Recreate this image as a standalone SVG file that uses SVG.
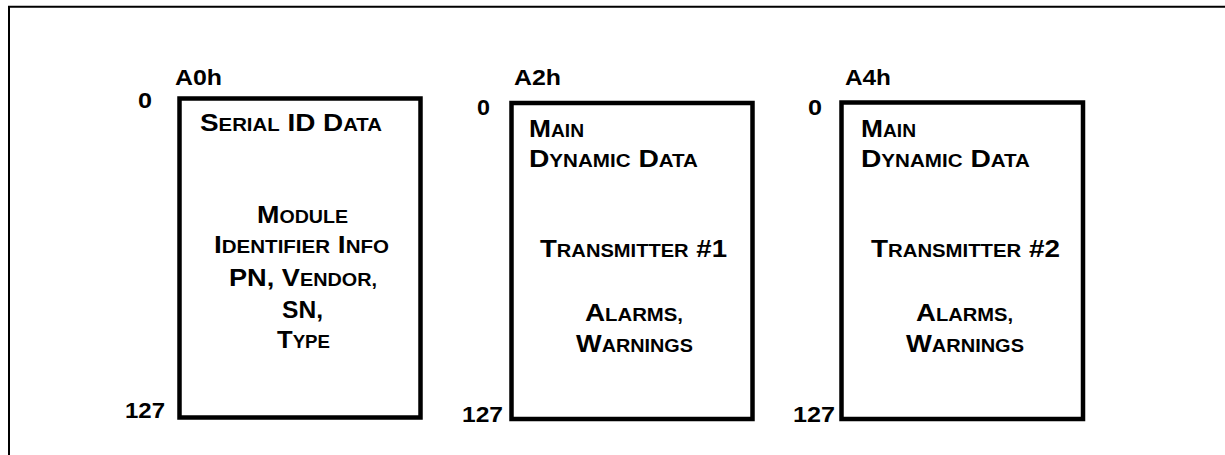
<svg xmlns="http://www.w3.org/2000/svg" width="1225" height="455" viewBox="0 0 1225 455">
<style>
  text { font-family: "Liberation Sans", Arial, sans-serif; font-weight: bold; fill: #000; }
  .lbl { font-size: 21.5px; }
  .bt { font-size: 24px; }
  .sc { font-size: 17.5px; }
  .box { fill: #fff; stroke: #000; stroke-width: 4.5; }
  .frame { fill: none; stroke: #000; stroke-width: 2; }
</style>
<rect width="1225" height="455" fill="#fff"/>
<g id="frame">
  <polyline class="frame" points="9,455 9,6.7 1225,6.7"/>
</g>
<g id="node-a0h">
  <rect class="box" x="179.5" y="98.5" width="241" height="319"/>
  <text class="lbl" x="175" y="85" textLength="47" lengthAdjust="spacingAndGlyphs">A0h</text>
  <text class="lbl" x="138" y="108" textLength="14" lengthAdjust="spacingAndGlyphs">0</text>
  <text class="lbl" x="125" y="418" textLength="40" lengthAdjust="spacingAndGlyphs">127</text>
  <text class="bt" x="200" y="131" textLength="182" lengthAdjust="spacingAndGlyphs">S<tspan class="sc">ERIAL</tspan> ID D<tspan class="sc">ATA</tspan></text>
  <text class="bt" x="257" y="223" textLength="91" lengthAdjust="spacingAndGlyphs">M<tspan class="sc">ODULE</tspan></text>
  <text class="bt" x="214" y="253" textLength="175" lengthAdjust="spacingAndGlyphs">I<tspan class="sc">DENTIFIER</tspan> I<tspan class="sc">NFO</tspan></text>
  <text class="bt" x="229" y="286" textLength="148" lengthAdjust="spacingAndGlyphs">PN, V<tspan class="sc">ENDOR,</tspan></text>
  <text class="bt" x="282" y="318" textLength="41" lengthAdjust="spacingAndGlyphs">SN,</text>
  <text class="bt" x="277" y="348" textLength="53" lengthAdjust="spacingAndGlyphs">T<tspan class="sc">YPE</tspan></text>
</g>
<g id="node-a2h">
  <rect class="box" x="511.5" y="103" width="241" height="316"/>
  <text class="lbl" x="514" y="85" textLength="47" lengthAdjust="spacingAndGlyphs">A2h</text>
  <text class="lbl" x="477" y="115" textLength="13" lengthAdjust="spacingAndGlyphs">0</text>
  <text class="lbl" x="462" y="422" textLength="41" lengthAdjust="spacingAndGlyphs">127</text>
  <text class="bt" x="529" y="137" textLength="55" lengthAdjust="spacingAndGlyphs">M<tspan class="sc">AIN</tspan></text>
  <text class="bt" x="529" y="167" textLength="169" lengthAdjust="spacingAndGlyphs">D<tspan class="sc">YNAMIC</tspan> D<tspan class="sc">ATA</tspan></text>
  <text class="bt" x="540" y="257" textLength="187" lengthAdjust="spacingAndGlyphs">T<tspan class="sc">RANSMITTER</tspan> #1</text>
  <text class="bt" x="585" y="321" textLength="98" lengthAdjust="spacingAndGlyphs">A<tspan class="sc">LARMS,</tspan></text>
  <text class="bt" x="576" y="352" textLength="117" lengthAdjust="spacingAndGlyphs">W<tspan class="sc">ARNINGS</tspan></text>
</g>
<g id="node-a4h">
  <rect class="box" x="841.5" y="102.5" width="241.5" height="316.5"/>
  <text class="lbl" x="845" y="85" textLength="46" lengthAdjust="spacingAndGlyphs">A4h</text>
  <text class="lbl" x="808" y="115" textLength="14" lengthAdjust="spacingAndGlyphs">0</text>
  <text class="lbl" x="793" y="422" textLength="42" lengthAdjust="spacingAndGlyphs">127</text>
  <text class="bt" x="861" y="137" textLength="55" lengthAdjust="spacingAndGlyphs">M<tspan class="sc">AIN</tspan></text>
  <text class="bt" x="861" y="167" textLength="169" lengthAdjust="spacingAndGlyphs">D<tspan class="sc">YNAMIC</tspan> D<tspan class="sc">ATA</tspan></text>
  <text class="bt" x="871" y="257" textLength="189" lengthAdjust="spacingAndGlyphs">T<tspan class="sc">RANSMITTER</tspan> #2</text>
  <text class="bt" x="916" y="321" textLength="97" lengthAdjust="spacingAndGlyphs">A<tspan class="sc">LARMS,</tspan></text>
  <text class="bt" x="906" y="352" textLength="118" lengthAdjust="spacingAndGlyphs">W<tspan class="sc">ARNINGS</tspan></text>
</g>
<g id="connectors"></g>
</svg>
